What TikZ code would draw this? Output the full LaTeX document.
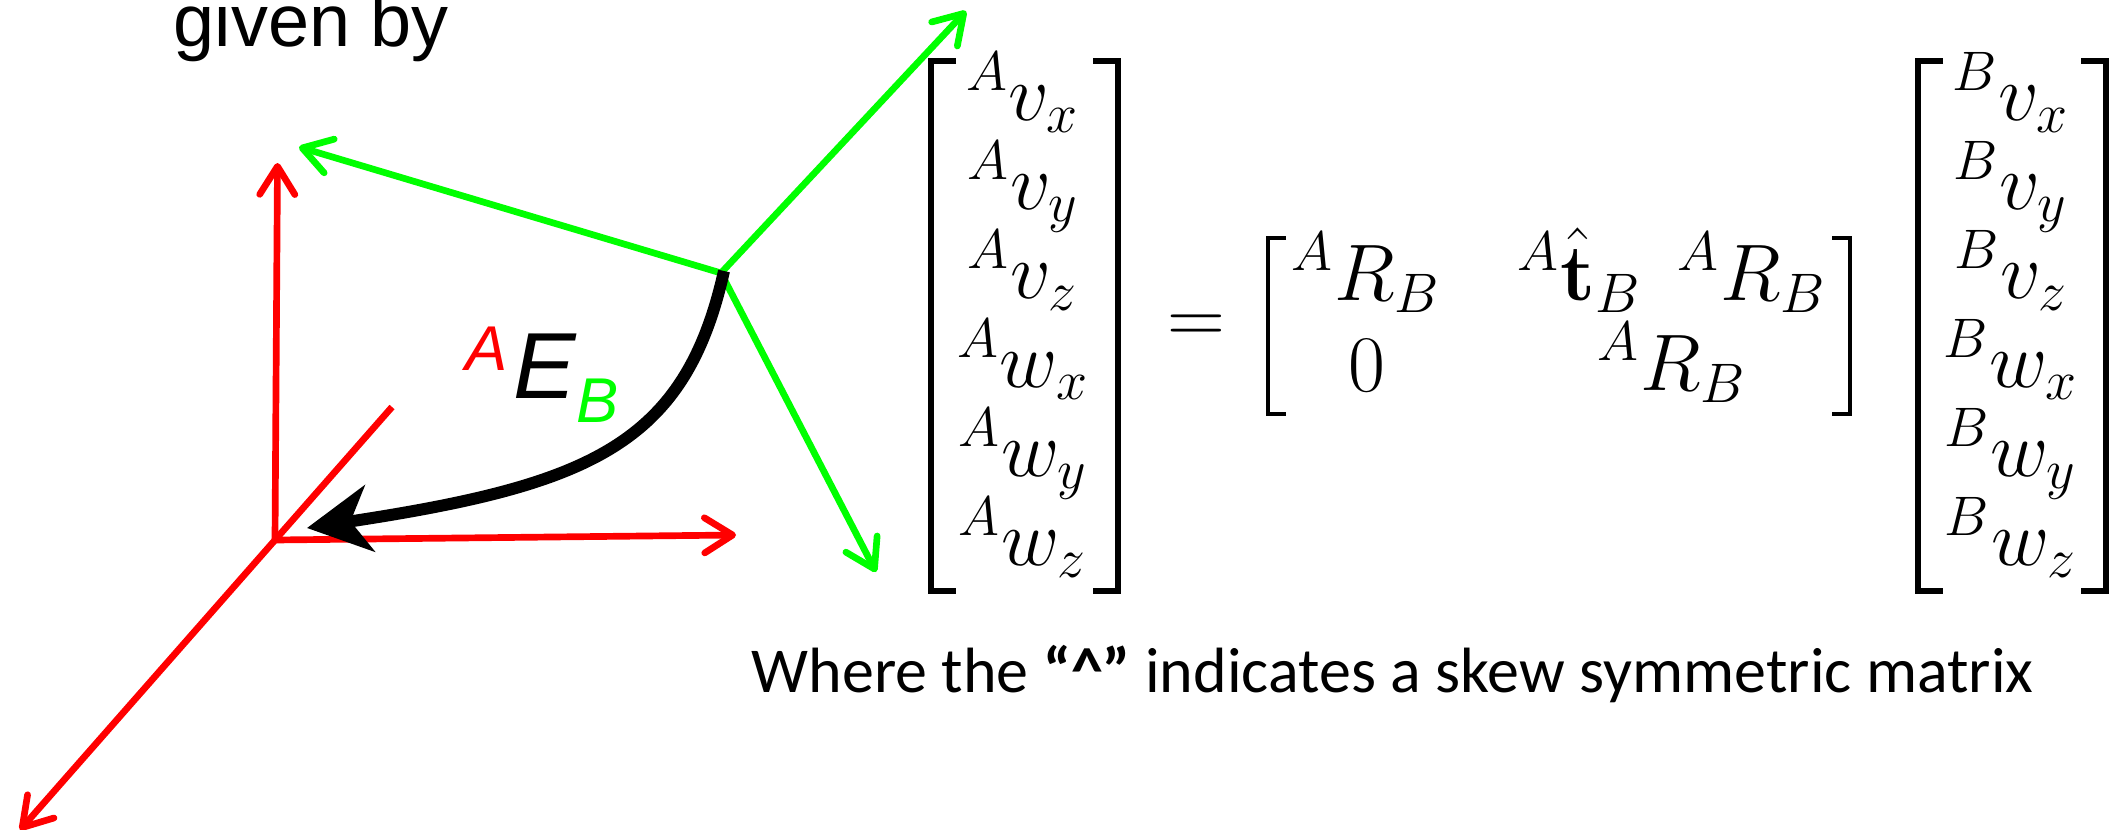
\documentclass[tikz,border=0pt]{standalone}
\usepackage{amsmath}
\usepackage[no-math]{fontspec}
\newfontfamily\arialfont{Liberation Sans}
\newfontfamily\calibrifont{Carlito}
\usepackage{xcolor}
\definecolor{framered}{RGB}{255,0,0}
\definecolor{framegreen}{RGB}{0,255,0}
\usetikzlibrary{arrows.meta}
\tikzset{
  redaxis/.style={framered,line width=1.9pt,-{Straight Barb[length=8pt,width=10pt,round]}},
  greenaxis/.style={framegreen,line width=1.9pt,-{Straight Barb[length=8pt,width=10pt,round]}},
  entry/.style={anchor=base,inner sep=0pt,font=\huge,scale=1.1},
  label/.style={anchor=base west,inner sep=0pt}
}
% brackets: x, top, bottom, tick, stroke
\newcommand{\brkl}[5]{\draw[line width=#5] (#1+#4,#2) -- (#1,#2) -- (#1,#3) -- (#1+#4,#3);}
\newcommand{\brkr}[5]{\draw[line width=#5] (#1-#4,#2) -- (#1,#2) -- (#1,#3) -- (#1-#4,#3);}
\begin{document}
\begin{tikzpicture}[x=0.01cm,y=-0.01cm]
\useasboundingbox (0,0) rectangle (2111,830);
% ---- frames ----
\coordinate (redorigin) at (275,540);
\coordinate (redup) at (277.5,163);
\coordinate (redright) at (736,535);
\coordinate (redback) at (392,407);
\coordinate (redfront) at (20,830);
\coordinate (greenorigin) at (721,273);
\coordinate (greenleft) at (299,147);
\coordinate (greenup) at (966,11);
\coordinate (greendown) at (876,572);
\draw[redaxis] (redorigin) -- (redup);
\draw[redaxis] (redorigin) -- (redright);
\draw[redaxis] (redback) -- (redfront);
\draw[greenaxis] (greenorigin) -- (greenleft);
\draw[greenaxis] (greenorigin) -- (greenup);
\draw[greenaxis] (greenorigin) -- (greendown);
% curved transform
\coordinate (curvestart) at (724,271);
\coordinate (curveend) at (307,528);
\draw[line width=3.4pt,-{Stealth[length=18pt,width=19pt,inset=5.5pt]}] (curvestart) .. controls (685,445) and (590,485) .. (curveend);
% ---- labels ----
\node[label,font=\arialfont\fontsize{21}{25}\selectfont] (givenby) at (173,46) {given by};
\node[label,font=\arialfont\itshape\fontsize{18}{22}\selectfont,text=framered] (supa) at (465,370) {A};
\node[label,font=\arialfont\itshape\fontsize{26.7}{30}\selectfont] (bige) at (513,398) {E};
\node[label,font=\arialfont\itshape\fontsize{18}{22}\selectfont,text=framegreen] (subb) at (576,422) {B};
% ---- left vector ----
\brkl{931}{61}{591}{25}{1.6pt}
\brkr{1118}{61}{591}{25}{1.6pt}
\node[entry] (avx) at (1023,120) {$^{A}v_x$};
\node[entry] (avy) at (1023,209) {$^{A}v_y$};
\node[entry] (avz) at (1023,298) {$^{A}v_z$};
\node[entry] (awx) at (1023,387) {$^{A}w_x$};
\node[entry] (awy) at (1023,476) {$^{A}w_y$};
\node[entry] (awz) at (1023,565) {$^{A}w_z$};
% ---- transform matrix ----
\node[entry] (equal) at (1196,343) {$=$};
\brkl{1268}{238}{414}{18}{1.3pt}
\brkr{1850}{238}{414}{18}{1.3pt}
\node[entry] (rtop) at (1366,300) {$^{A}R_B$};
\node[entry] (ttop) at (1672,300) {$^{A}\hat{\mathbf{t}}_B\;\,^{A}R_B$};
\node[entry] (zero) at (1367,391) {$0$};
\node[entry] (rbot) at (1672,390) {$^{A}R_B$};
% ---- right vector ----
\brkl{1918}{61}{591}{25}{1.6pt}
\brkr{2106}{61}{591}{25}{1.6pt}
\node[entry] (bvx) at (2011,120) {$^{B}v_x$};
\node[entry] (bvy) at (2011,209) {$^{B}v_y$};
\node[entry] (bvz) at (2011,298) {$^{B}v_z$};
\node[entry] (bwx) at (2011,387) {$^{B}w_x$};
\node[entry] (bwy) at (2011,476) {$^{B}w_y$};
\node[entry] (bwz) at (2011,565) {$^{B}w_z$};
% ---- note ----
\node[label,font=\calibrifont\fontsize{18.2}{22}\selectfont] (note) at (751,692) {Where the \textbf{“\textasciicircum”} indicates a skew symmetric matrix};
\end{tikzpicture}
\end{document}
